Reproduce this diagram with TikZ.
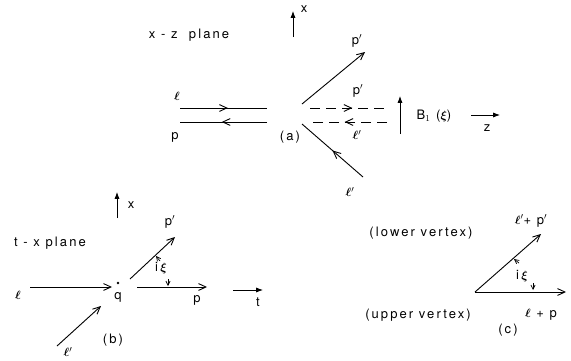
\documentclass[tikz,border=0pt]{standalone}
\usepackage{amsmath,amssymb,bm}
\usepackage{fontspec}
\setsansfont{TeX Gyre Heros}[LetterSpace=16]
\usetikzlibrary{positioning,arrows.meta,decorations.markings}

\begin{document}
\begin{tikzpicture}[x=1pt,y=-1pt,
  every node/.style={font=\sffamily\fontsize{13}{15}\selectfont, inner sep=1pt},
  ray/.style={line width=0.9pt},
  tipray/.style={ray, -{Straight Barb[length=2.6mm,width=2.4mm]}},
  midarrow/.style={ray, postaction={decorate},
    decoration={markings, mark=at position #1 with {\arrow{Straight Barb[length=2.6mm,width=2.4mm]}}}},
  midarrow/.default=0.55,
  dashray/.style={dash pattern=on 10pt off 6pt},
  axis/.style={line width=0.9pt, -{Latex[length=2.4mm,width=1.8mm]}},
  angtip/.style={line width=0.7pt, -{Straight Barb[length=1.5mm,width=1.5mm]}}
]
\useasboundingbox (0,0) rectangle (571,360);

% (a) x-z plane
\node (xzlabel) at (189,35) {x - z \ plane};
\coordinate (ax0) at (293,37);
\coordinate (ax1) at (293,11);
\draw[axis] (ax0) -- (ax1);
\node (axx) at (304,9) {x};

\coordinate (la0) at (180,108);
\coordinate (la1) at (267,108);
\coordinate (pa0) at (267,122);
\coordinate (pa1) at (180,122);
\draw[midarrow] (la0) -- (la1);
\draw[midarrow=0.52] (pa0) -- (pa1);
\node (lal) at (177,96) {$\bm\ell$};
\node (pal) at (175,137) {p};

\coordinate (pua0) at (302,104);
\coordinate (pua1) at (365,52);
\draw[tipray] (pua0) -- (pua1);
\node (pual) at (357,41) {p$'$};

\coordinate (da0) at (310,108);
\coordinate (da1) at (387,108);
\coordinate (db0) at (387,122);
\coordinate (db1) at (310,122);
\draw[midarrow=0.55, dashray] (da0) -- (da1);
\draw[midarrow=0.55, dashray] (db0) -- (db1);
\node (dal) at (358,91) {p$'$};
\node (dbl) at (357,135) {$\bm\ell'$};

\coordinate (lla0) at (363,177);
\coordinate (lla1) at (302,124);
\draw[midarrow=0.5] (lla0) -- (lla1);
\node (llal) at (350,192) {$\bm\ell'$};
\node (capa) at (290,137) {(a)};

\coordinate (bf0) at (400,134);
\coordinate (bf1) at (400,96);
\draw[axis] (bf0) -- (bf1);
\node (bfl) at (434,116) {B$_1$ ($\bm\xi$)};
\coordinate (az0) at (471,115);
\coordinate (az1) at (500,115);
\draw[axis] (az0) -- (az1);
\node (azl) at (487,128) {z};

% (b) t-x plane
\node (txlabel) at (50,243) {t - x plane};
\coordinate (bx0) at (117,218);
\coordinate (bx1) at (117,192);
\draw[axis] (bx0) -- (bx1);
\node (bxl) at (131,205) {x};

\coordinate (lb0) at (30,287);
\coordinate (lb1) at (112,287);
\draw[tipray] (lb0) -- (lb1);
\node (lbl) at (18,295) {$\bm\ell$};
\fill (118,283) circle (1.3pt);
\node (qb) at (118,297) {q};

\coordinate (pb0) at (137,287);
\coordinate (pb1) at (207,287);
\draw[tipray] (pb0) -- (pb1);
\node (pbl) at (197,300) {p};

\coordinate (ppb0) at (130,279);
\coordinate (ppb1) at (175,237);
\draw[tipray] (ppb0) -- (ppb1);
\node (ppbl) at (170,222) {p$'$};

\coordinate (llb0) at (57,346);
\coordinate (llb1) at (101,306);
\draw[tipray] (llb0) -- (llb1);
\node (llbl) at (68,352) {$\bm\ell'$};
\node (capb) at (113,340) {(b)};

\node (xib) at (161,268) {i\,$\bm\xi$};
\draw[angtip] (160,261) -- (156,256);
\draw[angtip] (168,279) -- (168,286);

\coordinate (bt0) at (233,290);
\coordinate (bt1) at (263,290);
\draw[axis] (bt0) -- (bt1);
\node (btl) at (258,302) {t};

% (c) vertices
\node (lowv) at (421,233) {(lower vertex)};
\node (uppv) at (418,315) {(upper vertex)};
\coordinate (vc) at (475,292);
\coordinate (hc) at (566,292);
\coordinate (dc) at (541,234);
\draw[tipray] (vc) -- (hc);
\draw[tipray] (vc) -- (dc);
\node (dcl) at (531,221) {$\bm\ell'$+ p$'$};
\node (hcl) at (541,315) {$\bm\ell$ + p};
\node (xic) at (522,276) {i\,$\bm\xi$};
\draw[angtip] (519,263) -- (514,259);
\draw[angtip] (533,283) -- (533,290);
\node (capc) at (508,330) {(c)};
\end{tikzpicture}
\end{document}
